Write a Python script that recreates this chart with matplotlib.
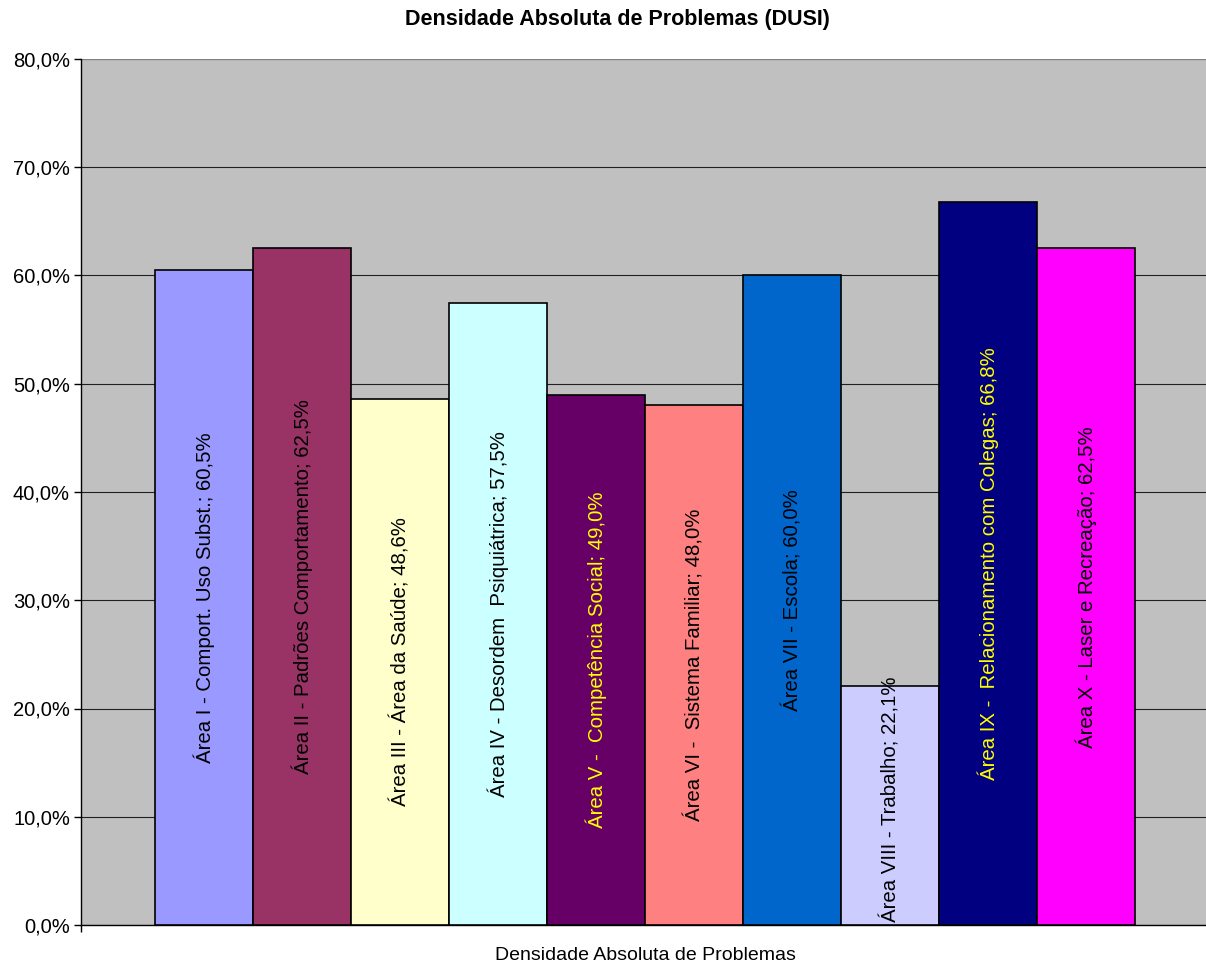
import matplotlib
matplotlib.use("Agg")
import matplotlib.pyplot as plt
from matplotlib.ticker import FuncFormatter

plt.rcParams['font.family'] = ['Liberation Sans', 'DejaVu Sans']

categories = ["Área I - Comport. Uso Subst.", "Área II - Padrões Comportamento",
              "Área III - Área da Saúde", "Área IV - Desordem  Psiquiátrica",
              "Área V -  Competência Social", "Área VI -  Sistema Familiar",
              "Área VII - Escola", "Área VIII - Trabalho",
              "Área IX -  Relacionamento com Colegas", "Área X - Laser e Recreação"]
values = [60.5, 62.5, 48.6, 57.5, 49.0, 48.0, 60.0, 22.1, 66.8, 62.5]
colors = ["#9999FF", "#993366", "#FFFFCC", "#CCFFFF", "#660066",
          "#FF8080", "#0066CC", "#CCCCFF", "#000080", "#FF00FF"]
label_colors = ["black", "black", "black", "black", "#FFFF00",
                "black", "black", "black", "#FFFF00", "black"]
yticks = [0, 10, 20, 30, 40, 50, 60, 70, 80]
title = "Densidade Absoluta de Problemas (DUSI)"
xlabel = "Densidade Absoluta de Problemas"


def pct(v):
    return f"{v:.1f}%".replace(".", ",")


fig = plt.figure(figsize=(12.06, 9.65), dpi=100)
ax = fig.add_axes([81/1206, 40/965, 1 - 81/1206, (925-59)/965])
ax.set_facecolor("#C0C0C0")

x = list(range(len(values)))
ax.bar(x, values, width=1.0, color=colors, edgecolor="black", linewidth=1.2, zorder=3)

ax.set_xlim(-0.5 - 0.755, 9.5 + 0.72)
ax.set_ylim(0, 80)

texts = []
for xi, v, c, lc in zip(x, values, categories, label_colors):
    t = ax.text(xi, v / 2, f"{c}; {pct(v)}", rotation=90,
                ha="center", va="center", fontsize=14.7, color=lc, zorder=4)
    texts.append(t)

# keep labels inside the plot area (as the spreadsheet does)
fig.canvas.draw()
renderer = fig.canvas.get_renderer()
ax_bottom = ax.get_window_extent(renderer).y0
for t in texts:
    bb = t.get_window_extent(renderer)
    if bb.y0 < ax_bottom + 3:
        shift = ax_bottom + 3 - bb.y0
        x0, y0 = ax.transData.transform(t.get_position())
        _, ynew = ax.transData.inverted().transform((x0, y0 + shift))
        t.set_y(ynew)

ax.set_yticks(yticks)
ax.yaxis.set_major_formatter(FuncFormatter(lambda v, p: pct(v)))
ax.grid(axis="y", color="#202020", linewidth=0.8, zorder=1)
ax.tick_params(axis="y", labelsize=14.5, length=5, width=1, direction="out", pad=3)
ax.set_xticks([-0.5 - 0.755])
ax.set_xticklabels([""])
ax.tick_params(axis="x", length=5, width=1, direction="out")
for s in ["top", "right"]:
    ax.spines[s].set_visible(False)
ax.spines["left"].set_linewidth(1)
ax.spines["bottom"].set_linewidth(1)
ax.axhline(80, color="#808080", linewidth=1.5, zorder=2)

fig.text(645/1206, 1 - 955/965, xlabel, ha="center", va="center", fontsize=14)
fig.text(617/1206, 1 - 20/965, title, ha="center", va="center", fontsize=15.5, fontweight="bold")
fig.savefig("out.png", dpi=100)
